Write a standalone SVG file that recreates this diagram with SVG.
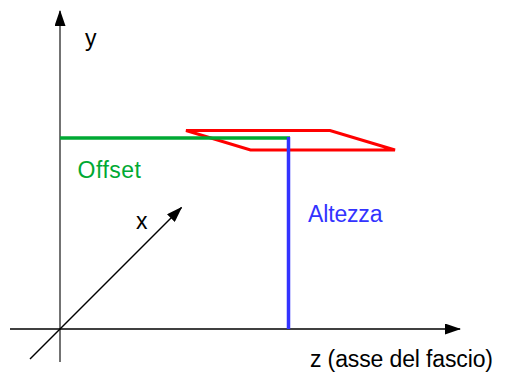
<svg xmlns="http://www.w3.org/2000/svg" width="505" height="374" viewBox="0 0 505 374">
  <style>
    .axis { stroke: #000; stroke-width: 1.5; fill: none; }
    .yaxis { stroke: #444; stroke-width: 1.5; fill: none; }
    .lbl { font-family: "Liberation Sans", Arial, sans-serif; font-size: 23px; }
  </style>
  <defs>
    <marker id="arr" markerUnits="userSpaceOnUse" markerWidth="16" markerHeight="11" refX="15" refY="5.5" orient="auto">
      <path d="M0,0 L16,5.5 L0,11 Z" fill="#000"/>
    </marker>
  </defs>
  <rect width="505" height="374" fill="#fff"/>
  <g id="connectors">
    <line class="yaxis" x1="60" y1="362" x2="60" y2="11" marker-end="url(#arr)"/>
    <line class="axis" x1="10" y1="329" x2="460" y2="329" marker-end="url(#arr)"/>
    <line class="axis" x1="30" y1="359" x2="181.5" y2="207.5" marker-end="url(#arr)"/>
  </g>
  <g id="plane">
    <polygon points="186,130.5 330,130.5 395,150 250.5,150" fill="none" stroke="#ff0000" stroke-width="3" stroke-linejoin="miter"/>
  </g>
  <g id="offset">
    <line x1="60" y1="138" x2="290" y2="138" stroke="#00a933" stroke-width="3.5"/>
    <text class="lbl" x="77.5" y="177.5" fill="#00a933" textLength="63.5">Offset</text>
  </g>
  <g id="altezza">
    <line x1="288.5" y1="137" x2="288.5" y2="329" stroke="#3333ff" stroke-width="3.5"/>
    <text class="lbl" x="308" y="221.5" fill="#3333ff" textLength="74.5">Altezza</text>
  </g>
  <g id="label-y"><text class="lbl" x="85" y="46" fill="#000">y</text></g>
  <g id="label-x"><text class="lbl" x="136" y="228.5" fill="#000">x</text></g>
  <g id="label-z"><text class="lbl" x="310" y="366.5" fill="#000" textLength="183">z (asse del fascio)</text></g>
</svg>
